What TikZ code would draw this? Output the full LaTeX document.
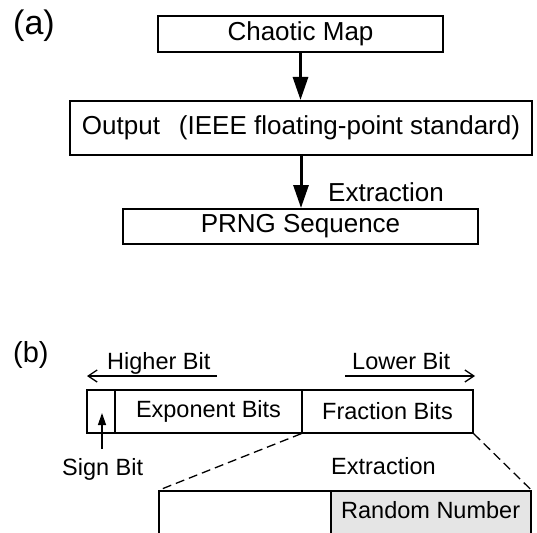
\documentclass[tikz,border=0pt]{standalone}
\usepackage{fontspec}
\setmainfont{Liberation Sans}
\usetikzlibrary{arrows.meta}
\begin{document}
\begin{tikzpicture}[x=1pt,y=-1pt,
  abox/.style={draw, line width=2pt, inner sep=0pt, font=\fontsize{26}{30}\selectfont},
  bcell/.style={draw, line width=1.3pt, inner sep=0pt, font=\fontsize{23.5}{28}\selectfont},
  alabel/.style={inner sep=0pt, anchor=base west, font=\fontsize{26}{30}\selectfont},
  blabel/.style={inner sep=0pt, anchor=base west, font=\fontsize{23.5}{28}\selectfont},
  flow/.style={line width=3pt, -{Triangle[length=23pt,width=15pt]}},
  bitdir/.style={line width=1.3pt, -{Straight Barb[length=9pt,width=12pt]}},
  signarrow/.style={line width=1.3pt, -{Triangle[length=12pt,width=8pt]}},
  zoomline/.style={line width=1.3pt, dash pattern=on 9pt off 5pt}]
\clip (0,0) rectangle (537,532);
\fill[white] (0,0) rectangle (537,532);
% (a)
\node[alabel, font=\fontsize{34}{40}\selectfont] (la) at (13,35) {(a)};
\node[abox, minimum width=285pt, minimum height=36pt] (chaotic) at (300.5,34) {Chaotic Map};
\node[abox, minimum width=462pt, minimum height=54pt] (output) at (301,128) {Output\hspace{19pt}(IEEE floating-point standard)};
\node[abox, minimum width=355pt, minimum height=35pt] (prng) at (300.5,226.5) {PRNG Sequence};
\draw[flow] (chaotic.south) -- (chaotic.south |- output.north);
\draw[flow] (output.south) -- (output.south |- prng.north);
\node[alabel] (extra) at (328,201) {Extraction};
% (b)
\node[alabel, font=\fontsize{29}{34}\selectfont] (lb) at (13,362) {(b)};
\node[blabel] (higher) at (107,369) {Higher Bit};
\node[blabel] (lower) at (352,369) {Lower Bit};
\coordinate (hbR) at (217,376);
\coordinate (hbL) at (87,376);
\coordinate (lbL) at (345,376);
\coordinate (lbR) at (475,376);
\draw[bitdir] (hbR) -- (hbL);
\draw[bitdir] (lbL) -- (lbR);
\node[bcell, minimum width=28pt, minimum height=43pt] (sign) at (101,411.5) {};
\node[bcell, minimum width=187pt, minimum height=43pt] (exp) at (208.5,411.5) {Exponent Bits};
\node[bcell, minimum width=171pt, minimum height=43pt] (frac) at (387.5,411.5) {Fraction Bits};
\coordinate (signtail) at (102,449);
\coordinate (signtip) at (102,413);
\draw[signarrow] (signtail) -- (signtip);
\node[blabel] (signlbl) at (62,475) {Sign Bit};
\node[blabel] (extrb) at (331,474) {Extraction};
\node[bcell, minimum width=172pt, minimum height=69pt] (botleft) at (245,525.5) {};
\node[bcell, fill=gray!20, minimum width=200pt, minimum height=69pt] (random) at (431,525.5) {};
\node[blabel] (rntext) at (341,518) {Random Number};
\draw[zoomline] (frac.south west) -- (botleft.north west);
\draw[zoomline] (frac.south east) -- (random.north east);
\end{tikzpicture}
\end{document}
